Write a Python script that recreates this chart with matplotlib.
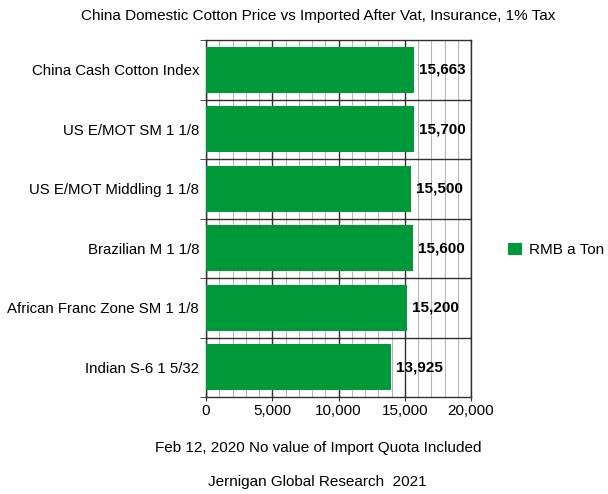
import matplotlib
matplotlib.use("Agg")
import matplotlib.pyplot as plt
from matplotlib.patches import Patch
from matplotlib.ticker import MultipleLocator, FuncFormatter

categories = ["China Cash Cotton Index", "US E/MOT SM 1 1/8", "US E/MOT Middling 1 1/8",
              "Brazilian M 1 1/8", "African Franc Zone SM 1 1/8", "Indian S-6 1 5/32"]
values = [15663, 15700, 15500, 15600, 15200, 13925]
series_name = "RMB a Ton"
title = "China Domestic Cotton Price vs Imported After Vat, Insurance, 1% Tax"
xlabel = "Feb 12, 2020 No value of Import Quota Included"
footer = "Jernigan Global Research  2021"

plt.rcParams['font.family'] = ['Liberation Sans', 'DejaVu Sans']
green = "#00993A"
dark = "#303030"

fig = plt.figure(figsize=(6.08, 4.94), dpi=100)
ax = fig.add_axes([206/608, 1-397/494, (471-206)/608, (397-40)/494])

n = len(categories)
ypos = list(range(n))[::-1]
ax.barh(ypos, values, height=0.78, color=green, zorder=3)
for y, v in zip(ypos, values):
    ax.text(v + 380, y, f"{v:,}", va="center", ha="left", fontsize=11, fontweight="bold", zorder=4)

ax.set_xlim(0, 20000)
ax.set_ylim(-0.5, n - 0.5)
ax.xaxis.set_major_locator(MultipleLocator(5000))
ax.xaxis.set_minor_locator(MultipleLocator(1000))
ax.xaxis.set_major_formatter(FuncFormatter(lambda x, p: f"{int(x):,}"))
ax.grid(axis="x", which="minor", color="#b8b8b8", linewidth=0.8, zorder=1)
ax.grid(axis="x", which="major", color=dark, linewidth=1.0, zorder=2)
for b in [i + 0.5 for i in range(n - 1)]:
    ax.axhline(b, color=dark, linewidth=1.0, zorder=2)

ax.set_yticks(ypos)
ax.set_yticklabels(categories, fontsize=10.8)
ax.tick_params(axis="y", length=0, pad=5)
ax.set_yticks([i - 0.5 for i in range(n + 1)], minor=True)
ax.tick_params(axis="y", which="minor", length=4, direction="out", color=dark)
ax.tick_params(axis="x", which="major", length=6, direction="inout", labelsize=11, color=dark, pad=2)
ax.tick_params(axis="x", which="minor", length=0)
for s in ax.spines.values():
    s.set_color(dark)
    s.set_linewidth(1.0)

fig.text(318/608, 1 - 448/494, xlabel, ha="center", va="center", fontsize=11)
fig.text(318/608, 1 - 16/494, title, ha="center", va="center", fontsize=11)
fig.text(317/608, 1 - 482/494, footer, ha="center", va="center", fontsize=11)

fig.legend(handles=[Patch(facecolor=green, label=series_name)], loc="center left",
           bbox_to_anchor=(494/608, 1 - 250/494), frameon=False, fontsize=11,
           handlelength=0.9, handleheight=0.9, handletextpad=0.5)

fig.savefig("out.png", dpi=100)
